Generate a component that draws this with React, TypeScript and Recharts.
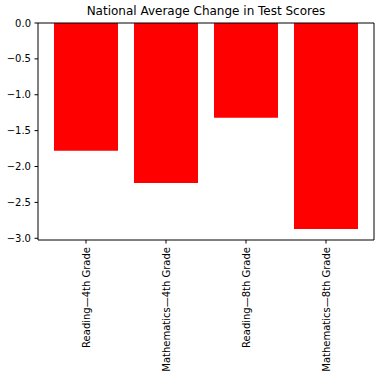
import { BarChart, Bar, XAxis, YAxis } from 'recharts'

const categories = ['Reading—4th Grade', 'Mathematics—4th Grade', 'Reading—8th Grade', 'Mathematics—8th Grade']
const changes = [-1.78, -2.23, -1.32, -2.87]
const yTicks = [0, -0.5, -1.0, -1.5, -2.0, -2.5, -3.0]

const data = categories.map((name, i) => ({ name, value: changes[i] }))

const FONT = '"DejaVu Sans", sans-serif'
const fmt = (v: number) => (v < 0 ? '\u2212' : '') + Math.abs(v).toFixed(1)

const XTick = (props: any) => {
  const { x, y, payload } = props
  return (
    <text
      x={x}
      y={y}
      dy="0.35em"
      transform={`rotate(-90, ${x}, ${y})`}
      textAnchor="end"
      fontSize={10}
      fontFamily={FONT}
      fill="#000"
    >
      {payload.value}
    </text>
  )
}

export default function App() {
  return (
    <div style={{ position: 'absolute', left: 0, top: 0, width: 380, height: 379, background: '#fff' }}>
      <div
        style={{
          position: 'absolute',
          left: 38,
          width: 336,
          top: 4,
          textAlign: 'center',
          fontFamily: FONT,
          fontSize: 12,
          color: '#000',
        }}
      >
        National Average Change in Test Scores
      </div>
      <BarChart
        width={380}
        height={379}
        data={data}
        margin={{ top: 22, right: 5, bottom: 0, left: 0 }}
        barCategoryGap="10%"
      >
        <XAxis
          dataKey="name"
          height={139}
          padding={{ left: 8, right: 8 }}
          tickSize={3.5}
          tickMargin={3.5}
          stroke="#000"
          tickLine={{ stroke: '#000' }}
          axisLine={{ stroke: '#000' }}
          tick={<XTick />}
          interval={0}
        />
        <XAxis xAxisId="top" orientation="top" dataKey="name" height={1} tick={false} tickLine={false} axisLine={{ stroke: '#000' }} />
        <YAxis
          width={38}
          domain={[-3.024, 0]}
          allowDataOverflow
          ticks={yTicks}
          tickFormatter={fmt}
          tickSize={3.5}
          tickMargin={3.5}
          tickLine={{ stroke: '#000' }}
          axisLine={{ stroke: '#000' }}
          tick={{ fontSize: 10, fontFamily: FONT, fill: '#000' }}
          interval={0}
        />
        <YAxis yAxisId="right" orientation="right" width={1} domain={[-3.024, 0]} tick={false} tickLine={false} axisLine={{ stroke: '#000' }} />
        <Bar dataKey="value" fill="#ff0000" isAnimationActive={false} />
      </BarChart>
    </div>
  )
}
